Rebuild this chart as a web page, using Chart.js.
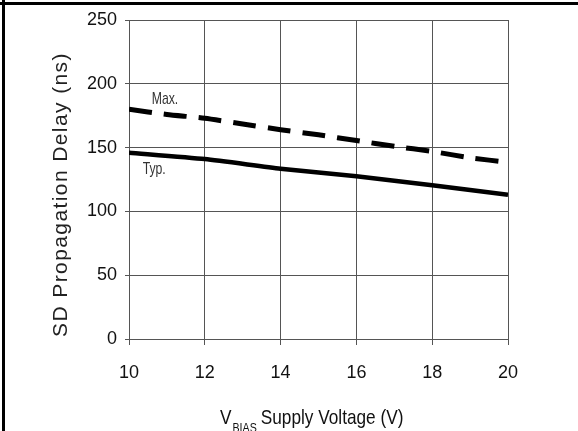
<!DOCTYPE html>
<html>
<head>
<meta charset="utf-8">
<script src="https://cdn.jsdelivr.net/npm/chart.js@4"></script>
<style>
  html, body { margin: 0; padding: 0; background: #fff; }
  #wrap { width: 578px; height: 431px; }
</style>
</head>
<body>
<div id="wrap"><canvas id="chart" width="578" height="431"></canvas></div>
<script>
// supply voltage (V) and propagation delay (ns)
const maxVoltage = [10, 11, 12, 13, 14, 15, 16, 17, 18, 19, 20];
const maxDelay = [180, 176, 173, 168.5, 164, 160, 155.5, 151, 147, 142, 138.5];
const typVoltage = [10, 12, 14, 16, 18, 20];
const typDelay = [146, 141, 133.5, 127.5, 120.5, 113];
const xTicks = [10, 12, 14, 16, 18, 20];
const yTicks = [0, 50, 100, 150, 200, 250];

const regular = "'Liberation Sans', Arial, sans-serif";

const toPoints = (xs, ys) => xs.map((x, i) => ({ x: x, y: ys[i] }));

// draw text squeezed horizontally, like the narrow face of the original
function narrowText(ctx, text, x, y, size, squeeze) {
  ctx.save();
  ctx.translate(x, y);
  ctx.scale(squeeze, 1);
  ctx.font = size + 'px ' + regular;
  ctx.fillText(text, 0, 0);
  const w = ctx.measureText(text).width * squeeze;
  ctx.restore();
  return w;
}

const decorations = {
  id: 'decorations',
  afterDraw(chart) {
    const ctx = chart.ctx;
    const xs = chart.scales.x;
    const ys = chart.scales.y;
    ctx.save();

    // frame lines on top and left
    ctx.fillStyle = '#000';
    ctx.fillRect(0, 2, chart.width, 3);
    ctx.fillRect(2, 0, 3, chart.height);

    // curve labels
    ctx.fillStyle = '#333';
    ctx.textAlign = 'left';
    ctx.textBaseline = 'alphabetic';
    narrowText(ctx, 'Max.', xs.getPixelForValue(10.6), ys.getPixelForValue(184), 17, 0.72);
    narrowText(ctx, 'Typ.', xs.getPixelForValue(10.36), ys.getPixelForValue(129), 17, 0.72);

    // y axis title
    ctx.fillStyle = '#222';
    ctx.save();
    ctx.translate(61, (chart.chartArea.top + chart.chartArea.bottom) / 2 + 15);
    ctx.rotate(-Math.PI / 2);
    ctx.font = '21px ' + regular;
    ctx.letterSpacing = '1.4px';
    ctx.textAlign = 'center';
    ctx.textBaseline = 'middle';
    ctx.fillText('SD Propagation Delay (ns)', 0, 0);
    ctx.restore();

    // x axis title with subscript
    ctx.fillStyle = '#111';
    let px = 220;
    const base = 424;
    px += narrowText(ctx, 'V', px, base, 21, 0.82) + 1;
    px += narrowText(ctx, 'BIAS', px, base + 8, 13, 0.82) + 4;
    narrowText(ctx, 'Supply Voltage (V)', px, base, 21, 0.82);

    ctx.restore();
  }
};

new Chart(document.getElementById('chart').getContext('2d'), {
  type: 'line',
  data: {
    datasets: [
      {
        label: 'Max.',
        data: toPoints(maxVoltage, maxDelay),
        borderColor: '#000',
        borderWidth: 5,
        borderDash: [23, 12],
        borderCapStyle: 'butt',
        pointRadius: 0,
        tension: 0.2,
        fill: false
      },
      {
        label: 'Typ.',
        data: toPoints(typVoltage, typDelay),
        borderColor: '#000',
        borderWidth: 4.5,
        pointRadius: 0,
        tension: 0.2,
        fill: false
      }
    ]
  },
  options: {
    responsive: false,
    animation: false,
    layout: { padding: { top: 20, right: 70, left: 0, bottom: 0 } },
    plugins: {
      legend: { display: false },
      tooltip: { enabled: false }
    },
    scales: {
      x: {
        type: 'linear',
        min: 10,
        max: 20,
        afterFit(scale) { scale.height = 92; },
        afterBuildTicks(scale) { scale.ticks = xTicks.map(v => ({ value: v })); },
        grid: { color: '#555', lineWidth: 1, tickLength: 6 },
        border: { color: '#555', width: 1 },
        ticks: {
          color: '#111',
          padding: 17,
          maxRotation: 0,
          font: { family: regular, size: 18 }
        }
      },
      y: {
        type: 'linear',
        min: 0,
        max: 250,
        afterFit(scale) { scale.width = 129; },
        afterBuildTicks(scale) { scale.ticks = yTicks.map(v => ({ value: v })); },
        grid: { color: '#555', lineWidth: 1, tickLength: 4 },
        border: { color: '#555', width: 1 },
        ticks: {
          color: '#111',
          padding: 8,
          font: { family: regular, size: 18 }
        }
      }
    }
  },
  plugins: [decorations]
});
</script>
</body>
</html>
